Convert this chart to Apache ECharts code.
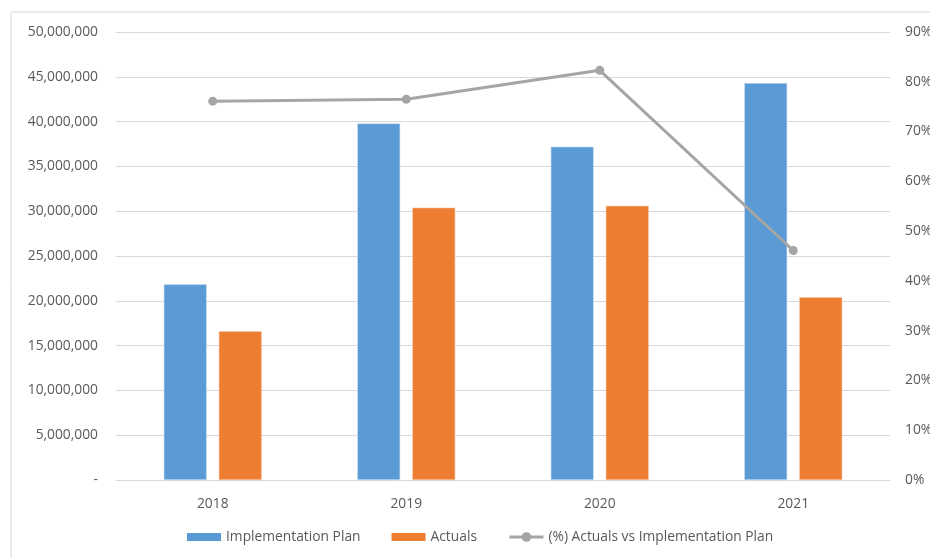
<!DOCTYPE html>
<html>
<head>
<meta charset="utf-8">
<script src="https://cdn.jsdelivr.net/npm/echarts@6/dist/echarts.min.js"></script>
<style>
  html, body { margin: 0; padding: 0; background: #fff; }
  #chart { width: 930px; height: 558px; }
</style>
</head>
<body>
<div id="chart"></div>
<script>
// Yearly budget: plan vs actual spend, and the share achieved
const years = ['2018', '2019', '2020', '2021'];
const planValues = [21840000, 39800000, 37200000, 44300000];
const actualValues = [16600000, 30400000, 30600000, 20400000];
const pctValues = [76.1, 76.5, 82.3, 46.1];

const textColor = '#595959';
const font = 'Open Sans';
const fontSize = 13.8;
// flat swatch used for the bar entries of the legend
const swatch = 'path://M0,0h34v8h-34z';

const chart = echarts.init(document.getElementById('chart'), null, { renderer: 'canvas' });

chart.setOption({
  backgroundColor: '#fff',
  animation: false,
  textStyle: { fontFamily: font, color: textColor },
  graphic: [{
    type: 'rect',
    shape: { x: 11, y: 12, width: 940, height: 560 },
    style: { fill: 'none', stroke: '#d9d9d9', lineWidth: 1 },
    silent: true
  }],
  grid: { left: 116, right: 40, top: 32, bottom: 78, outerBoundsMode: 'none', containLabel: false },
  legend: {
    top: 525,
    left: 182,
    itemGap: 31,
    itemWidth: 34,
    itemHeight: 12,
    symbolKeepAspect: true,
    textStyle: { color: textColor, fontFamily: font, fontSize: fontSize },
    data: [
      { name: 'Implementation Plan', icon: swatch, itemStyle: { borderWidth: 0 } },
      { name: 'Actuals', icon: swatch, itemStyle: { borderWidth: 0 } },
      {
        name: '(%) Actuals vs Implementation Plan',
        itemStyle: { color: '#a5a5a5' },
        lineStyle: { color: '#a5a5a5', width: 3 }
      }
    ]
  },
  xAxis: {
    type: 'category',
    data: years,
    axisLine: { lineStyle: { color: '#d9d9d9' } },
    axisTick: { show: false },
    axisLabel: { color: textColor, fontSize: fontSize, margin: 17 }
  },
  yAxis: [{
    type: 'value',
    min: 0,
    max: 50000000,
    interval: 5000000,
    axisLine: { show: false },
    axisTick: { show: false },
    splitLine: { lineStyle: { color: '#d9d9d9' } },
    axisLabel: {
      color: textColor,
      fontSize: fontSize,
      margin: 18,
      formatter: v => v === 0 ? '-' : v.toLocaleString('en-US')
    }
  }, {
    type: 'value',
    min: 0,
    max: 90,
    interval: 10,
    axisLine: { show: false },
    axisTick: { show: false },
    splitLine: { show: false },
    axisLabel: { color: textColor, fontSize: fontSize, margin: 15, formatter: '{value}%' }
  }],
  series: [{
    name: 'Implementation Plan',
    type: 'bar',
    data: planValues,
    barWidth: 43,
    barGap: '28%',
    itemStyle: { color: '#5b9bd5', borderColor: '#c9def2', borderWidth: 0.6 }
  }, {
    name: 'Actuals',
    type: 'bar',
    data: actualValues,
    barWidth: 43,
    itemStyle: { color: '#ed7d31', borderColor: '#f7c9a8', borderWidth: 0.6 }
  }, {
    name: '(%) Actuals vs Implementation Plan',
    type: 'line',
    yAxisIndex: 1,
    data: pctValues,
    symbol: 'circle',
    symbolSize: 9,
    lineStyle: { color: '#a5a5a5', width: 3 },
    itemStyle: { color: '#a5a5a5' }
  }]
});
</script>
</body>
</html>
